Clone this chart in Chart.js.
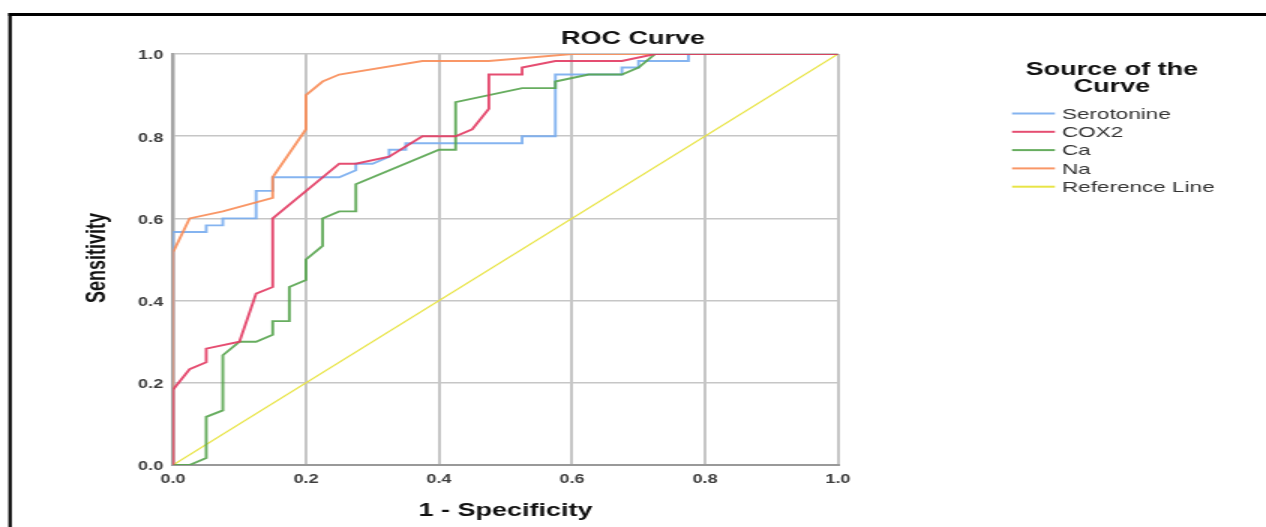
<!DOCTYPE html>
<html>
  <head>
    <meta charset="UTF-8" />
    <title>ROC Curve</title>
    <script src="https://cdn.jsdelivr.net/npm/chart.js"></script>
    <style>
      html, body { margin: 0; padding: 0; background: #fff; overflow: hidden; }
      /* the source picture is stretched sideways, so the canvas is too */
      #wrap { width: 844px; height: 527px; transform: scaleX(1.5); transform-origin: 0 0; }
    </style>
  </head>
  <body>
    <div id="wrap"><canvas id="rocChart" width="844" height="527"></canvas></div>

    <script>
      // ROC points, [1 - specificity, sensitivity]
      const serotonine = [[0,0],[0,0.567],[0.05,0.567],[0.05,0.583],[0.075,0.583],[0.075,0.6],[0.125,0.6],[0.125,0.667],[0.15,0.667],[0.15,0.7],[0.25,0.7],[0.275,0.717],[0.275,0.733],[0.3,0.733],[0.325,0.75],[0.325,0.767],[0.35,0.767],[0.35,0.783],[0.525,0.783],[0.525,0.8],[0.575,0.8],[0.575,0.95],[0.675,0.95],[0.675,0.967],[0.7,0.967],[0.7,0.983],[0.775,0.983],[0.775,1],[1,1]];
      const cox2 = [[0,0],[0,0.183],[0.025,0.233],[0.05,0.25],[0.05,0.283],[0.1,0.3],[0.125,0.417],[0.15,0.433],[0.15,0.6],[0.25,0.733],[0.275,0.733],[0.325,0.75],[0.375,0.8],[0.425,0.8],[0.45,0.817],[0.475,0.867],[0.475,0.95],[0.525,0.95],[0.525,0.967],[0.575,0.983],[0.675,0.983],[0.725,1],[1,1]];
      const ca = [[0,0],[0.025,0],[0.05,0.017],[0.05,0.117],[0.075,0.133],[0.075,0.267],[0.1,0.3],[0.125,0.3],[0.15,0.317],[0.15,0.35],[0.175,0.35],[0.175,0.433],[0.2,0.45],[0.2,0.5],[0.225,0.533],[0.225,0.6],[0.25,0.617],[0.275,0.617],[0.275,0.683],[0.4,0.767],[0.425,0.767],[0.425,0.883],[0.525,0.917],[0.575,0.917],[0.575,0.933],[0.625,0.95],[0.675,0.95],[0.7,0.967],[0.725,1],[1,1]];
      const na = [[0,0],[0,0.517],[0.025,0.6],[0.075,0.617],[0.15,0.65],[0.15,0.7],[0.2,0.817],[0.2,0.9],[0.225,0.933],[0.25,0.95],[0.375,0.983],[0.475,0.983],[0.6,1],[1,1]];
      const referenceLine = [[0,0],[1,1]];

      const seriesNames = ['Serotonine', 'COX2', 'Ca', 'Na', 'Reference Line'];
      const tickValues = [0, 0.2, 0.4, 0.6, 0.8, 1.0];

      const chartTitle = 'ROC Curve';
      const xTitle = '1 - Specificity';
      const yTitle = 'Sensitivity';
      const legendTitle = ['Source of the', 'Curve'];

      const FONT = "'Liberation Sans', Arial, sans-serif";

      function toXY(pts) {
        return pts.map(p => ({ x: p[0], y: p[1] }));
      }

      // frame, titles and the legend block
      const rocDecor = {
        id: 'rocDecor',
        beforeDraw(chart) {
          const ctx = chart.ctx;
          ctx.save();
          ctx.fillStyle = '#000';
          ctx.fillRect(5.6, 13, 844, 3);
          ctx.fillRect(5.6, 13, 2.2, 520);
          ctx.restore();
        },
        afterDraw(chart) {
          const ctx = chart.ctx;
          const area = chart.chartArea;
          ctx.save();
          ctx.fillStyle = '#111';
          ctx.textAlign = 'center';
          ctx.textBaseline = 'middle';
          ctx.font = 'bold 18px ' + FONT;
          ctx.fillText(chartTitle, chart.width / 2, 39);
          ctx.fillText(xTitle, (area.left + area.right) / 2, 511);

          ctx.save();
          ctx.translate(64.7, 258);
          ctx.rotate(-Math.PI / 2);
          ctx.fillText(yTitle, 0, 0);
          ctx.restore();

          // legend
          ctx.fillText(legendTitle[0], 741.3, 70);
          ctx.fillText(legendTitle[1], 741.3, 87);

          ctx.textAlign = 'left';
          ctx.font = '15px ' + FONT;
          chart.data.datasets.forEach((ds, i) => {
            const y = 113.5 + i * 18.3;
            ctx.strokeStyle = ds.borderColor;
            ctx.lineWidth = 2;
            ctx.beginPath();
            ctx.moveTo(674.7, y);
            ctx.lineTo(703.3, y);
            ctx.stroke();
            ctx.fillStyle = '#333';
            ctx.fillText(ds.label, 708, y + 1);
          });
          ctx.restore();
        }
      };

      const colors = ['rgba(120,172,238,0.9)', 'rgba(226,58,98,0.9)', 'rgba(86,164,78,0.9)', 'rgba(248,140,86,0.9)', 'rgba(232,228,70,1)'];
      const allSeries = [serotonine, cox2, ca, na, referenceLine];
      const drawOrder = [3, 0, 1, 2, 4];

      const datasets = allSeries.map((s, i) => ({
        label: seriesNames[i],
        data: toXY(s),
        borderColor: colors[i],
        borderWidth: i === 4 ? 1.3 : 1.9,
        pointRadius: 0,
        tension: 0,
        fill: false,
        showLine: true,
        order: drawOrder[i]
      }));

      const axisBase = {
        type: 'linear',
        min: 0,
        max: 1,
        afterBuildTicks(scale) {
          scale.ticks = tickValues.map(v => ({ value: v }));
        },
        ticks: {
          color: '#3c3c3c',
          font: { family: FONT, size: 12, weight: 'bold' },
          callback: v => Number(v).toFixed(1)
        }
      };

      new Chart(document.getElementById('rocChart'), {
        type: 'scatter',
        data: { datasets: datasets },
        options: {
          responsive: false,
          animation: false,
          layout: { padding: { top: 54, right: 285.3, bottom: 0, left: 0 } },
          plugins: {
            legend: { display: false },
            title: { display: false },
            tooltip: { enabled: false }
          },
          scales: {
            x: Object.assign({}, axisBase, {
              position: 'bottom',
              afterFit(scale) { scale.height = 62; },
              grid: { color: '#c6c6c6', lineWidth: 2, drawTicks: false },
              border: { color: '#999', width: 2 },
              ticks: Object.assign({}, axisBase.ticks, { padding: 7, maxRotation: 0 })
            }),
            y: Object.assign({}, axisBase, {
              position: 'left',
              afterFit(scale) { scale.width = 115.3; },
              grid: { color: '#c6c6c6', lineWidth: 1.6, drawTicks: false },
              border: { color: '#a4a4a4', width: 2.5 },
              ticks: Object.assign({}, axisBase.ticks, { padding: 6.5, labelOffset: 2 })
            })
          }
        },
        plugins: [rocDecor]
      });
    </script>
  </body>
</html>
